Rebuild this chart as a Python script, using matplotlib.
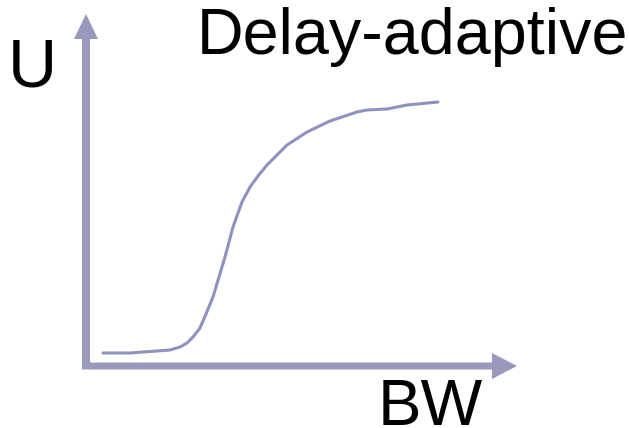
import numpy as np
import matplotlib.pyplot as plt

# sketch curve: utility vs bandwidth (origin at the axes corner)
bw = [17, 44, 84, 94, 101, 107, 114, 120, 127, 133, 139, 147, 156, 164, 172, 181, 201, 221, 244, 271, 281, 301, 321, 352]
u = [13, 13, 16, 19, 23, 29, 38, 52, 69, 89, 109, 139, 164, 179, 190, 201, 221, 234, 245, 254, 256, 257, 261, 264]

title = "Delay-adaptive"
ylab = "U"
xlab = "BW"

axis_color = "#9999bb"
line_color = "#8f91bf"

fig = plt.figure(figsize=(6.29, 4.28), dpi=100)
ax = fig.add_axes([0, 0, 1, 1])
ax.set_xlim(-86, 543)
ax.set_ylim(-62, 366)
ax.axis("off")

# axes drawn as arrows
ax.arrow(0, -3, 0, 355, width=8, head_width=24, head_length=25,
         length_includes_head=True, color=axis_color, lw=0)
ax.arrow(-4, 0, 435, 0, width=7, head_width=26, head_length=25,
         length_includes_head=True, color=axis_color, lw=0)

ax.plot(bw, u, color=line_color, lw=2.2, solid_capstyle="round", solid_joinstyle="round")

ax.text(111, 312, title, fontsize=46.5, family="Liberation Sans", va="baseline", ha="left")
ax.text(-78, 280, ylab, fontsize=49, family="Liberation Sans", va="baseline", ha="left")
ax.text(292, -59, xlab, fontsize=47, family="Liberation Sans", va="baseline", ha="left")

fig.savefig("out.png", dpi=100)
